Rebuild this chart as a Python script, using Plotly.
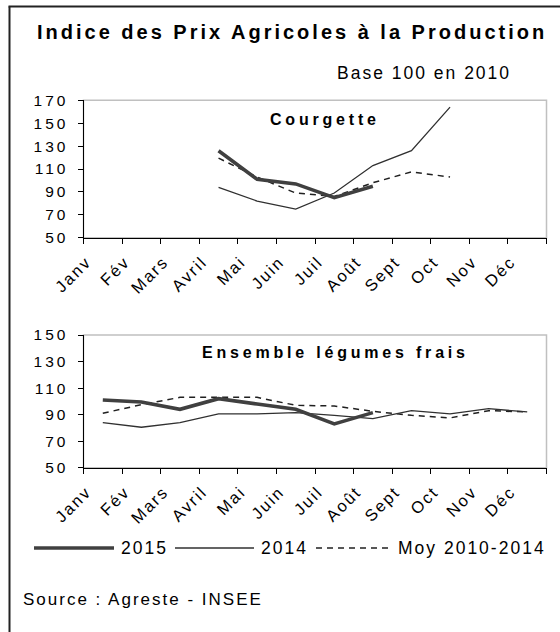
import plotly.graph_objects as go

months = ["Janv", "Fév", "Mars", "Avril", "Mai", "Juin", "Juil", "Août",
          "Sept", "Oct", "Nov", "Déc"]

# Courgette (base 100 en 2010)
courg_2015 = [None, None, None, 126, 101, 97, 85, 95, None, None, None, None]
courg_2014 = [None, None, None, 94, 82, 75, 89, 113, 126, 164, None, None]
courg_moy = [None, None, None, 119.5, 103, 89, 86, 98, 107.5, 103, None, None]

# Ensemble légumes frais
leg_2015 = [101, 99.5, 94, 102, 98, 94, 83, 91.5, None, None, None, None]
leg_2014 = [84, 80.5, 84, 90.5, 90.5, 91.5, 89.5, 87, 93, 90.5, 94.5, 92]
leg_moy = [91, 97.5, 103, 103, 103, 97, 96.5, 92.5, 89.5, 87.5, 93, 92]

series_names = ["2015", "2014", "Moy 2010-2014"]

W, H = 560, 632
FONT = "Liberation Sans, Arial, sans-serif"


def px(x):
    return x / W


def py(y):
    return 1 - y / H


def sp(text, s):
    return f'<span style="letter-spacing:{s}px">{text}</span>'


xs = list(range(1, 13))
fig = go.Figure()

styles = {
    "2015": dict(color="#404040", width=3.6),
    "2014": dict(color="#303030", width=1.3),
    "Moy 2010-2014": dict(color="#202020", width=1.5, dash="6px,5px"),
}

for (xa, ya, data) in [("x", "y", (courg_2015, courg_2014, courg_moy)),
                       ("x2", "y2", (leg_2015, leg_2014, leg_moy))]:
    for name, vals in reversed(list(zip(series_names, data))):
        fig.add_trace(go.Scatter(x=xs, y=vals, mode="lines", name=name,
                                 line=styles[name], xaxis=xa, yaxis=ya,
                                 showlegend=False, hoverinfo="skip"))

xdom = [px(83.5), px(546.5)]
xaxis_common = dict(
    range=[0.5, 12.5], domain=xdom, showline=True, linecolor="black",
    linewidth=1, showgrid=False, zeroline=False,
    tickmode="array", tickvals=[i - 0.42 for i in xs],
    ticktext=[sp(m, 2) for m in months], tickangle=-45, ticks="",
    tickfont=dict(family=FONT, size=16.5, color="black"),
    ticklabelstandoff=7,
    minor=dict(tickmode="array", tickvals=[i + 0.5 for i in range(13)],
               ticks="outside", ticklen=5, tickcolor="black", tickwidth=1,
               showgrid=False),
)
yaxis_common = dict(
    showline=True, linecolor="black", linewidth=1, showgrid=False,
    zeroline=False, ticks="outside", ticklen=5, tickcolor="black",
    tickfont=dict(family=FONT, size=15.5, color="black"),
    ticklabelstandoff=6,
)

fig.update_layout(
    width=W, height=H, autosize=False,
    margin=dict(l=0, r=0, t=0, b=0),
    paper_bgcolor="white", plot_bgcolor="white", template="none",
    showlegend=False,
    xaxis=dict(**xaxis_common, anchor="y"),
    yaxis=dict(**yaxis_common, domain=[py(237.7), py(100.3)], range=[50, 170],
               tickvals=list(range(50, 171, 20)),
               ticktext=[sp(str(v), 3) for v in range(50, 171, 20)], anchor="x"),
    xaxis2=dict(**xaxis_common, anchor="y2"),
    yaxis2=dict(**yaxis_common, domain=[py(467.7), py(335)], range=[50, 150],
                tickvals=list(range(50, 151, 20)),
                ticktext=[sp(str(v), 3) for v in range(50, 151, 20)], anchor="x2"),
)

shapes = []
# plot-area grey borders
for xr, yr in [("x domain", "y domain"), ("x2 domain", "y2 domain")]:
    shapes.append(dict(type="rect", xref=xr, yref=yr, x0=0, x1=1, y0=0, y1=1,
                       line=dict(color="#c0c0c0", width=1.5), layer="below"))
# outer frame (top and left)
shapes.append(dict(type="line", xref="paper", yref="paper", x0=px(8.5), x1=1,
                   y0=py(6.5), y1=py(6.5), line=dict(color="#222", width=2)))
shapes.append(dict(type="line", xref="paper", yref="paper", x0=px(9.5), x1=px(9.5),
                   y0=py(6.5), y1=0, line=dict(color="#222", width=2)))
# legend samples
ly = py(548)
leg_samples = [(34, 114, styles["2015"]), (175, 254, styles["2014"]),
               (316, 391, styles["Moy 2010-2014"])]
for x0, x1, st in leg_samples:
    shapes.append(dict(type="line", xref="paper", yref="paper", x0=px(x0), x1=px(x1),
                       y0=ly, y1=ly, line=st))
fig.update_layout(shapes=shapes)

ann = []
ann.append(dict(text=sp("<b>Indice des Prix Agricoles à la Production</b>", 3),
                x=px(292), y=py(32), xanchor="center", yanchor="middle",
                font=dict(family=FONT, size=20, color="black")))
ann.append(dict(text=sp("Base 100 en 2010", 2), x=px(513), y=py(73.5),
                xanchor="right", yanchor="middle",
                font=dict(family=FONT, size=17.5, color="black")))
ann.append(dict(text=sp("<b>Courgette</b>", 3.8), x=px(325), y=py(119),
                xanchor="center", yanchor="middle",
                font=dict(family=FONT, size=16, color="black")))
ann.append(dict(text=sp("<b>Ensemble légumes frais</b>", 3.8), x=px(335), y=py(352),
                xanchor="center", yanchor="middle",
                font=dict(family=FONT, size=16, color="black")))
for (x0, x1, _), name in zip(leg_samples, series_names):
    ann.append(dict(text=sp(name, 2), x=px(x1 + 5), y=ly, xanchor="left",
                    yanchor="middle", font=dict(family=FONT, size=17.5, color="black")))
ann.append(dict(text=sp("Source : Agreste - INSEE", 2), x=px(21), y=py(599),
                xanchor="left", yanchor="middle",
                font=dict(family=FONT, size=17, color="black")))
for a in ann:
    a.update(xref="paper", yref="paper", showarrow=False)
fig.update_layout(annotations=ann)

fig.write_html("out.html", config={"displayModeBar": False},
               post_script="document.body.style.margin='0';"
                           "document.body.style.overflow='hidden';")
